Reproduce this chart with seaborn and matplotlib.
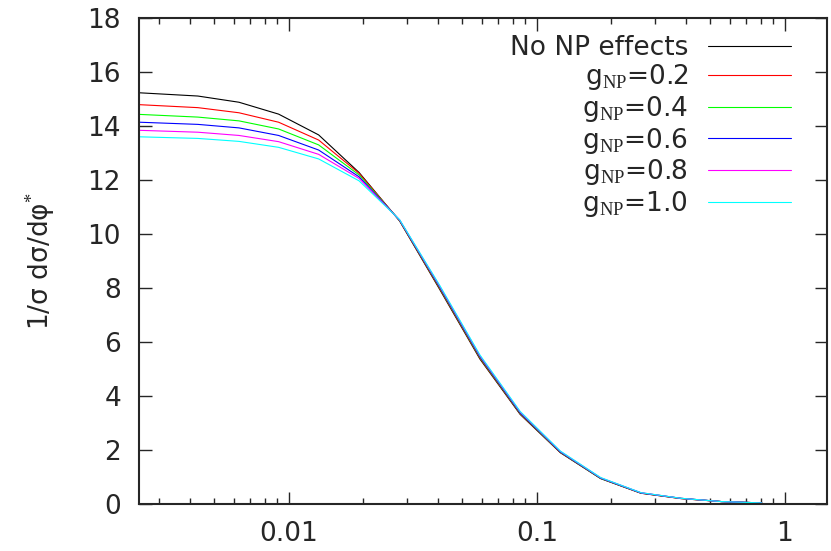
import numpy as np
import pandas as pd
import seaborn as sns
import matplotlib.pyplot as plt
import matplotlib.ticker as tkr

# phi* bin positions (log spaced)
phi = [0.0025, 0.0043, 0.0063, 0.0091, 0.0132, 0.0192, 0.028, 0.0406,
       0.059, 0.0857, 0.1245, 0.181, 0.263, 0.382, 0.555, 0.807]

no_np = [15.23, 15.11, 14.88, 14.44, 13.67, 12.28, 10.48, 7.95,
         5.37, 3.32, 1.90, 0.94, 0.40, 0.20, 0.09, 0.04]
g02 = [14.79, 14.68, 14.49, 14.14, 13.48, 12.25, 10.49, 7.98,
       5.40, 3.34, 1.91, 0.95, 0.40, 0.20, 0.09, 0.04]
g04 = [14.43, 14.33, 14.19, 13.89, 13.30, 12.19, 10.50, 8.01,
       5.43, 3.36, 1.92, 0.95, 0.41, 0.21, 0.09, 0.04]
g06 = [14.14, 14.06, 13.93, 13.65, 13.11, 12.12, 10.51, 8.04,
       5.46, 3.38, 1.93, 0.96, 0.41, 0.21, 0.09, 0.04]
g08 = [13.84, 13.77, 13.65, 13.42, 12.95, 12.06, 10.52, 8.07,
       5.49, 3.41, 1.95, 0.97, 0.42, 0.21, 0.09, 0.04]
g10 = [13.60, 13.54, 13.43, 13.21, 12.78, 11.97, 10.53, 8.10,
       5.52, 3.43, 1.96, 0.98, 0.42, 0.21, 0.09, 0.04]

labels = ['No NP effects', 'g$_{\\mathrm{NP}}$=0.2', 'g$_{\\mathrm{NP}}$=0.4',
          'g$_{\\mathrm{NP}}$=0.6', 'g$_{\\mathrm{NP}}$=0.8', 'g$_{\\mathrm{NP}}$=1.0']
colors = ['black', 'red', 'lime', 'blue', 'magenta', 'cyan']

df = pd.concat([pd.DataFrame({'phi': phi, 'val': v, 'curve': lab})
                for v, lab in zip([no_np, g02, g04, g06, g08, g10], labels)])

sns.set_style('ticks')
plt.rcParams['font.family'] = ['DejaVu Sans']
plt.rcParams['mathtext.fontset'] = 'custom'
plt.rcParams['mathtext.rm'] = 'Liberation Serif'
plt.rcParams['mathtext.it'] = 'DejaVu Sans'
plt.rcParams['xtick.direction'] = 'in'
plt.rcParams['ytick.direction'] = 'in'

FS = 19

fig = plt.figure(figsize=(8.31, 5.51), dpi=100)
ax = fig.add_axes([139 / 831, 1 - 504 / 551, 688 / 831, 486 / 551])

sns.lineplot(data=df, x='phi', y='val', hue='curve', palette=colors,
             estimator=None, sort=False, linewidth=0.8, ax=ax)

ax.set_xscale('log')
ax.set_xlim(0.00249, 1.48)
ax.set_ylim(0, 18)
ax.set_yticks(np.arange(0, 19, 2))
ax.xaxis.set_major_locator(tkr.FixedLocator([0.01, 0.1, 1]))
ax.xaxis.set_major_formatter(tkr.FixedFormatter(['0.01', '0.1', '1']))
ax.xaxis.set_minor_locator(tkr.LogLocator(base=10, subs=np.arange(2, 10)))
ax.xaxis.set_minor_formatter(tkr.NullFormatter())

ax.tick_params(which='both', top=True, right=True, labelsize=FS, width=1.0)
ax.tick_params(which='major', length=9)
ax.tick_params(axis='y', pad=13)
ax.tick_params(axis='x', pad=12.5)
ax.tick_params(which='minor', length=4.5)
for s in ax.spines.values():
    s.set_linewidth(1.5)

ax.set_xlabel('')
ax.set_ylabel('1/σ dσ/dφ$^{*}$', fontsize=FS, labelpad=21)

# legend: first entry separate so all rows get the same spacing
handles, labs = ax.get_legend_handles_labels()
leg_kw = dict(frameon=False, markerfirst=False, fontsize=FS, handlelength=3.14,
              handletextpad=0.76, borderpad=0, borderaxespad=0)
leg1 = ax.legend(handles[:1], labs[:1], loc='upper right',
                 bbox_to_anchor=(0.9477, 0.9650), **leg_kw)
ax.add_artist(leg1)
ax.legend(handles[1:], labs[1:], loc='upper right',
          bbox_to_anchor=(0.9477, 0.9085), labelspacing=0.06, **leg_kw)

fig.savefig('out.png', dpi=100)
